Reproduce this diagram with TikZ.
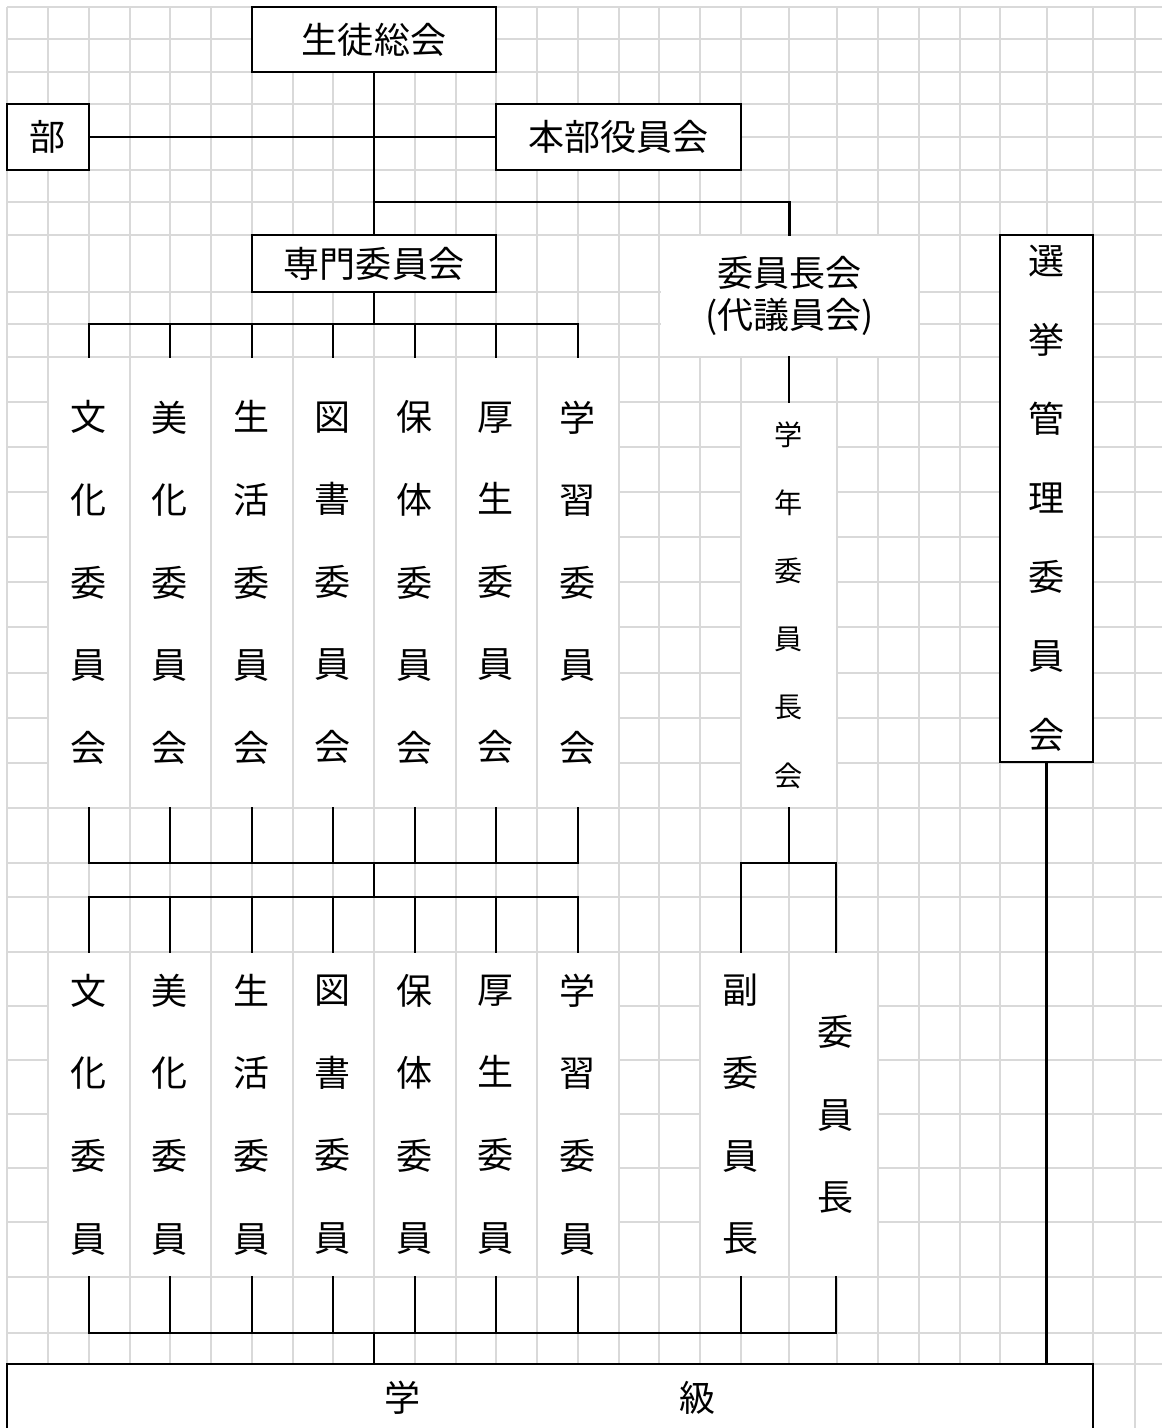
\documentclass[tikz,border=0pt]{standalone}
\usepackage{fontspec}
\newfontfamily\cjk{Noto Sans CJK JP}
\definecolor{gridgray}{RGB}{217,217,217}
\begin{document}
\begin{tikzpicture}[x=0.02cm,y=-0.02cm,
  gridline/.style={draw=gridgray, line width=0.9pt},
  conn/.style={line width=1.2pt, line cap=rect, line join=miter},
  bx/.style={draw, line width=1.4pt, fill=white, inner sep=0pt, font=\cjk\fontsize{20.5}{24}\selectfont},
  lbl/.style={inner sep=0pt, align=center, font=\cjk\fontsize{20.5}{24}\selectfont},
  vcol/.style={inner sep=0pt, minimum width=1.2cm, align=center, font=\cjk\fontsize{20.5}{47}\selectfont},
  vsmall/.style={inner sep=0pt, minimum width=1.2cm, align=center, font=\cjk\fontsize{16}{38.8}\selectfont},
  vsel/.style={bx, align=center, font=\cjk\fontsize{20.5}{45}\selectfont}]
\useasboundingbox (0,0) rectangle (1162,1428);
\clip (0,0) rectangle (1162,1428);
\fill[white] (0,0) rectangle (1162,1428);
% grid
\foreach \cx in {7,48,89,130,170,211,252,293,333,374,415,456,496,537,578,619,659,700,741,789,837,878,919,960,1000,1047,1093,1135}
  \draw[gridline] (\cx,7) -- (\cx,1428);
\foreach \ry in {7,39,72,104,137,170,202,235,292,324,357,402,447,492,537,582,627,673,718,763,808,863,897,952,1006,1060,1114,1168,1222,1277,1333,1364}
  \draw[gridline] (7,\ry) -- (1162,\ry);
% merged (borderless) cells
\foreach \a/\b in {48/130,130/211,211/293,293/374,374/456,456/537,537/619}{
  \fill[white] (\a+1,358) rectangle (\b-1,807);
  \fill[white] (\a+1,953) rectangle (\b-1,1276);
}
\fill[white] (661,236) rectangle (918,356);
\fill[white] (742,403) rectangle (836,807);
\fill[white] (701,953) rectangle (788,1276);
\fill[white] (790,953) rectangle (877,1276);
% boxed nodes
\node[bx, minimum width=4.88cm, minimum height=1.3cm] (sg) at (374,39.5) {生徒総会};
\node[bx, minimum width=1.64cm, minimum height=1.32cm] (bu) at (48,137) {部};
\node[bx, minimum width=4.9cm, minimum height=1.32cm] (honbu) at (618.5,137) {本部役員会};
\node[bx, minimum width=4.88cm, minimum height=1.14cm] (senmon) at (374,263.5) {専門委員会};
\node[lbl, minimum width=5.18cm, minimum height=2.44cm] (iincho) at (789.5,296) {委員長会\\(代議員会)};
\node[vsel, minimum width=1.86cm, minimum height=10.54cm] (senkyo) at (1046.5,498.5) {選\\挙\\管\\理\\委\\員\\会};
\node[bx, minimum width=21.72cm, minimum height=1.36cm] (gakkyu) at (550,1398) {学\hspace{5.2cm}級};
% upper committee columns
\node[vcol, minimum height=9.02cm] (u1) at (89,582.5) {文\\化\\委\\員\\会};
\node[vcol, minimum height=9.02cm] (u2) at (170,582.5) {美\\化\\委\\員\\会};
\node[vcol, minimum height=9.02cm] (u3) at (252,582.5) {生\\活\\委\\員\\会};
\node[vcol, minimum height=9.02cm] (u4) at (333,582.5) {図\\書\\委\\員\\会};
\node[vcol, minimum height=9.02cm] (u5) at (415,582.5) {保\\体\\委\\員\\会};
\node[vcol, minimum height=9.02cm] (u6) at (496,582.5) {厚\\生\\委\\員\\会};
\node[vcol, minimum height=9.02cm] (u7) at (578,582.5) {学\\習\\委\\員\\会};
% lower member columns
\node[vcol, minimum height=6.5cm] (l1) at (89,1114.5) {文\\化\\委\\員};
\node[vcol, minimum height=6.5cm] (l2) at (170,1114.5) {美\\化\\委\\員};
\node[vcol, minimum height=6.5cm] (l3) at (252,1114.5) {生\\活\\委\\員};
\node[vcol, minimum height=6.5cm] (l4) at (333,1114.5) {図\\書\\委\\員};
\node[vcol, minimum height=6.5cm] (l5) at (415,1114.5) {保\\体\\委\\員};
\node[vcol, minimum height=6.5cm] (l6) at (496,1114.5) {厚\\生\\委\\員};
\node[vcol, minimum height=6.5cm] (l7) at (578,1114.5) {学\\習\\委\\員};
% grade chair council and chairs
\node[vsmall, minimum height=8.12cm] (gk) at (789,605) {学\\年\\委\\員\\長\\会};
\node[vcol, minimum height=6.5cm] (fuku) at (741,1114.5) {副\\委\\員\\長};
\node[vcol, minimum height=6.5cm] (iin) at (836,1114.5) {委\\員\\長};
% junction coordinates
\coordinate (j1) at (374,202);
\coordinate (bar1) at (374,324);
\coordinate (bar2) at (374,863);
\coordinate (bar3) at (374,897);
\coordinate (bar4) at (789,863);
\coordinate (bar5) at (374,1333);
% connectors
\draw[conn] (sg.south) -- (senmon.north);
\draw[conn] (bu.east) -- (honbu.west);
\draw[conn] (j1) -| (iincho.north);
\draw[conn] (senmon.south) -- (bar1);
\draw[conn] (u1.north |- bar1) -- (u7.north |- bar1);
\foreach \i in {1,...,7}{
  \draw[conn] (u\i.north |- bar1) -- (u\i.north);
  \draw[conn] (u\i.south) -- (u\i.south |- bar2);
  \draw[conn] (l\i.north |- bar3) -- (l\i.north);
  \draw[conn] (l\i.south) -- (l\i.south |- bar5);
}
\draw[conn] (u1.south |- bar2) -- (u7.south |- bar2);
\draw[conn] (bar2) -- (bar3);
\draw[conn] (l1.north |- bar3) -- (l7.north |- bar3);
\draw[conn] (gk.north |- iincho.south) -- (gk.north);
\draw[conn] (gk.south) -- (bar4);
\draw[conn] (fuku.north) |- (bar4) -| (iin.north);
\draw[conn] (fuku.south) -- (fuku.south |- bar5);
\draw[conn] (iin.south) -- (iin.south |- bar5);
\draw[conn] (l1.south |- bar5) -- (iin.south |- bar5);
\draw[conn] (bar5) -- (bar5 |- gakkyu.north);
\draw[conn] (senkyo.south) -- (senkyo.south |- gakkyu.north);
\end{tikzpicture}
\end{document}
